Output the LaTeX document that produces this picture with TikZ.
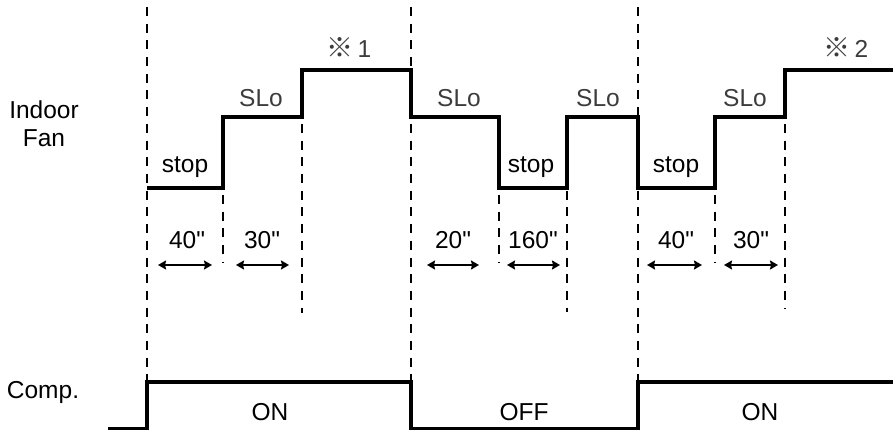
\documentclass[tikz,border=0pt]{standalone}
\usepackage{fontspec}
\setmainfont{Liberation Sans}[Ligatures=TeXOff]
\newfontfamily\cjkfont{Noto Sans CJK JP}
\usetikzlibrary{arrows.meta}
\definecolor{lblgrey}{HTML}{3C3C3C}
\tikzset{
  lbl/.style={anchor=base, inner sep=0pt, font=\fontsize{24.5}{28}\selectfont},
  glbl/.style={lbl, text=lblgrey},
  sig/.style={line width=3.2pt, line join=miter},
  guide/.style={line width=2.6pt, dash pattern=on 9pt off 7.7pt},
  dim/.style={line width=2.2pt, {Stealth[length=8pt,width=9pt,inset=1pt]}-{Stealth[length=8pt,width=9pt,inset=1pt]}}
}
\begin{document}
\begin{tikzpicture}[x=1pt,y=-1pt]
\useasboundingbox (0,0) rectangle (893,430);
% long guide lines
\coordinate (g1t) at (147,7); \coordinate (g1b) at (147,382);
\coordinate (g2t) at (411,7); \coordinate (g2b) at (411,382);
\coordinate (g3t) at (638,7); \coordinate (g3b) at (638,382);
\draw[guide] (g1t) -- (g1b);
\draw[guide] (g2t) -- (g2b);
\draw[guide] (g3t) -- (g3b);
% short guide lines
\coordinate (s1t) at (223,195); \coordinate (s1b) at (223,262);
\coordinate (s2t) at (302,124); \coordinate (s2b) at (302,313);
\coordinate (s3t) at (499,195); \coordinate (s3b) at (499,262);
\coordinate (s4t) at (567,124); \coordinate (s4b) at (567,312);
\coordinate (s5t) at (715,195); \coordinate (s5b) at (715,262);
\coordinate (s6t) at (785,124); \coordinate (s6b) at (785,308);
\foreach \n in {1,...,6} \draw[guide] (s\n t) -- (s\n b);
% indoor fan signal
\draw[sig] (147,188) -- (223,188) -- (223,117) -- (302,117) -- (302,70)
  -- (411,70) -- (411,117) -- (499,117) -- (499,188) -- (567,188)
  -- (567,117) -- (638,117) -- (638,188) -- (715,188) -- (715,117)
  -- (785,117) -- (785,70) -- (893,70);
% compressor signal
\draw[sig] (108,429) -- (147,429) -- (147,382) -- (411,382) -- (411,429)
  -- (638,429) -- (638,382) -- (893,382);
% dimension arrows
\coordinate (a1l) at (158,265); \coordinate (a1r) at (212,265);
\coordinate (a2l) at (236,265); \coordinate (a2r) at (289,265);
\coordinate (a3l) at (427,265); \coordinate (a3r) at (479,265);
\coordinate (a4l) at (507,265); \coordinate (a4r) at (560,265);
\coordinate (a5l) at (647,265); \coordinate (a5r) at (702,265);
\coordinate (a6l) at (724,265); \coordinate (a6r) at (778,265);
\foreach \n in {1,...,6} \draw[dim] (a\n l) -- (a\n r);
% labels
\node[lbl] (indoor) at (44,119) {Indoor};
\node[lbl] (fan) at (44,147) {Fan};
\node[lbl] (comp) at (43,398) {Comp.};
\node[lbl] (stop1) at (185,173) {stop};
\node[lbl] (stop2) at (531,173) {stop};
\node[lbl] (stop3) at (676,173) {stop};
\node[glbl] (slo1) at (261,107) {SLo};
\node[glbl] (slo2) at (459,107) {SLo};
\node[glbl] (slo3) at (598,107) {SLo};
\node[glbl] (slo4) at (745,107) {SLo};
\node[glbl] (note1) at (349,58) {{\cjkfont\fontsize{27}{30}\selectfont ※}\,1};
\node[glbl] (note2) at (846,58) {{\cjkfont\fontsize{27}{30}\selectfont ※}\,2};
\node[lbl] (t1) at (187,248) {40"};
\node[lbl] (t2) at (262,248) {30"};
\node[lbl] (t3) at (453,248) {20"};
\node[lbl] (t4) at (533,248) {160"};
\node[lbl] (t5) at (676,248) {40"};
\node[lbl] (t6) at (751,248) {30"};
\node[lbl] (on1) at (270,420) {ON};
\node[lbl] (off) at (524,420) {OFF};
\node[lbl] (on2) at (760,420) {ON};
\end{tikzpicture}
\end{document}
